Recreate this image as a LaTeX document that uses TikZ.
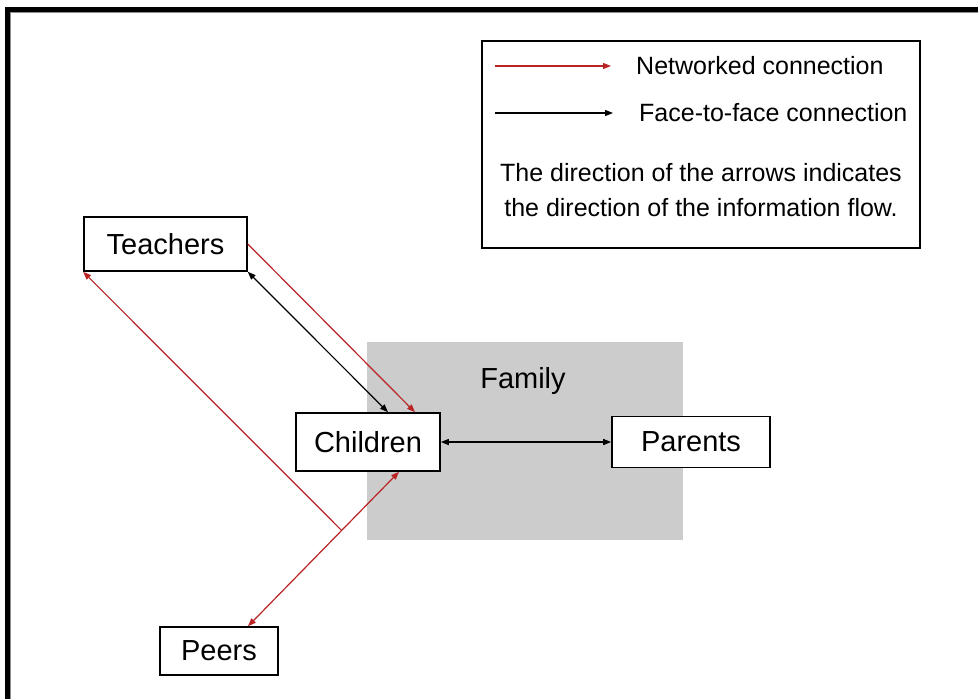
\documentclass[tikz,border=0pt]{standalone}
\usepackage{fontspec}
\setmainfont{Liberation Sans}
\usetikzlibrary{positioning, arrows.meta, backgrounds}
\definecolor{netred}{RGB}{185,35,35}

\begin{document}
\begin{tikzpicture}[
        x=1pt, y=-1pt,
        % Styles
        actor/.style={draw=black, line width=1.6pt, fill=white, inner sep=0pt, font=\fontsize{29}{34}\selectfont},
        family_bg/.style={fill=black!20, draw=none, minimum width=316pt, minimum height=198pt, inner sep=0pt},
        net/.style={-{Triangle[length=8pt, width=6pt]}, line width=1.2pt, draw=netred},
        f2f/.style={-{Triangle[length=8pt, width=6pt]}, line width=1.2pt, draw=black},
        legend_text/.style={font=\fontsize{25}{35}\selectfont, anchor=west, inner sep=0pt}
    ]
    \useasboundingbox (0,0) rectangle (978,699);

    % Frame
    \draw[line width=5pt] (7.5,699) -- (7.5,9.5) -- (978,9.5);
    \draw[black!45, line width=1pt] (10.5,699) -- (10.5,12.5) -- (978,12.5);

    % Family area
    \node[family_bg] (family) at (525,441) {};
    \node[font=\fontsize{29}{34}\selectfont] (famlbl) at (523,381) {Family};

    % Actors
    \node[actor, minimum width=163pt, minimum height=54pt] (teachers) at (165.5,244) {Teachers};
    \node[actor, minimum width=144pt, minimum height=58pt] (children) at (368,442) {Children};
    \node[actor, minimum width=158pt, minimum height=51pt] (parents) at (691,442) {Parents};
    \node[actor, minimum width=118pt, minimum height=48pt] (peers) at (219,651) {Peers};

    % Connections
    \draw[net] (teachers.east) -- ([xshift=47pt]children.north);
    \draw[f2f, {Triangle[length=8pt, width=6pt]}-{Triangle[length=8pt, width=6pt]}] (teachers.south east) -- ([xshift=20pt]children.north);
    \draw[f2f, {Triangle[length=8pt, width=6pt]}-{Triangle[length=8pt, width=6pt]}] (children.east) -- (parents.west);
    \draw[net, {Triangle[length=8pt, width=6pt]}-{Triangle[length=8pt, width=6pt]}] ([xshift=29pt]peers.north) -- coordinate[pos=0.62] (junc) ([xshift=31pt]children.south);
    \draw[net] (junc) -- (teachers.south west);

    % Legend
    \node[draw=black, line width=1.6pt, minimum width=438pt, minimum height=207pt] (legend) at (701,144.5) {};
    \node[legend_text] (netlbl) at (636,66) {Networked connection};
    \node[legend_text] (f2flbl) at (639,113) {Face-to-face connection};
    \coordinate (netstart) at (495,66);
    \coordinate (f2fstart) at (495,113);
    \draw[net] (netstart) -- ([xshift=-25pt]netlbl.west);
    \draw[f2f] (f2fstart) -- ([xshift=-26pt]f2flbl.west);
    \node[font=\fontsize{25}{35}\selectfont, align=center] (note) at (701,190) {The direction of the arrows indicates\\the direction of the information flow.};

\end{tikzpicture}
\end{document}
